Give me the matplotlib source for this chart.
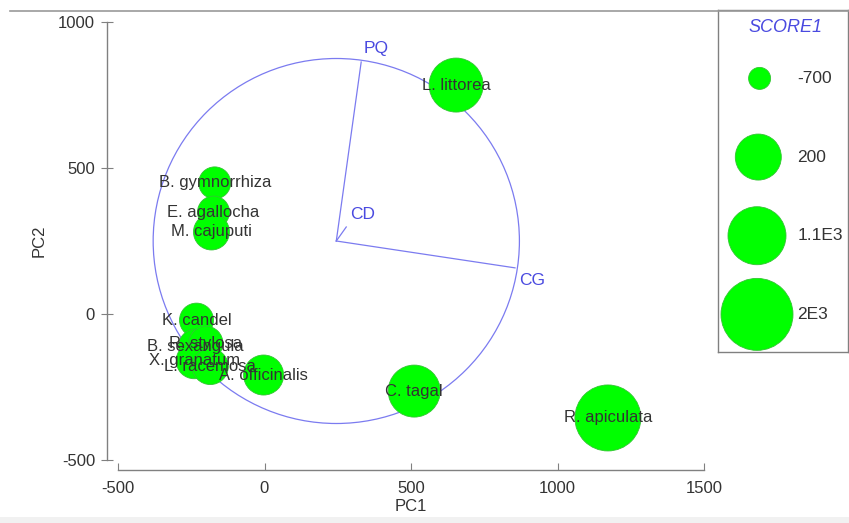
import matplotlib
matplotlib.use("Agg")
import matplotlib.pyplot as plt
from matplotlib.patches import Circle, Rectangle
from matplotlib.lines import Line2D
import numpy as np

plt.rcParams['font.family'] = ['Liberation Sans', 'DejaVu Sans']
plt.rcParams['axes.unicode_minus'] = False

# sample scores
species = ["L. littorea", "B. gymnorrhiza", "E. agallocha", "M. cajuputi",
           "K. candel", "B. sexangula", "R. stylosa", "X. granatum",
           "L. racemosa", "A. officinalis", "C. tagal", "R. apiculata"]
pc1 = [654, -170, -174, -181, -232, -235, -200, -240, -185, -3, 511, 1172]
pc2 = [784, 449, 349, 281, -21, -110, -100, -160, -180, -209, -264, -356]
score1 = [800, -325, -325, -175, -250, -250, -250, -175, -175, -25, 650, 1614]

# variable loadings (biplot vectors)
var_names = ["PQ", "CD", "CG"]
var_x = [330, 279, 855]
var_y = [863, 298, 158]
origin = (245, 250)
circle_r = 625

# bubble legend
legend_vals = [-700, 200, 1100, 2000]
legend_labels = ["-700", "200", "1.1E3", "2E3"]
legend_radius_px = [11, 23, 29, 36]

green = "#00ff00"
green_edge = "#33c433"
blue = "#7b7bf0"
blue_txt = "#4a4ae0"
grey = "#808080"
txt = "#333333"


def bubble_size(v):
    r = np.interp(v, legend_vals, legend_radius_px)
    return (2 * r * 0.72) ** 2


W, H = 849, 523
fig = plt.figure(figsize=(W / 100, H / 100), dpi=100)
ax = fig.add_axes([118 / W, (H - 460) / H, (704 - 118) / W, (460 - 22) / H])

ax.set_xlim(-500, 1500)
ax.set_ylim(-500, 1000)
ax.set_xticks([-500, 0, 500, 1000, 1500])
ax.set_yticks([-500, 0, 500, 1000])
for s in ["top", "right"]:
    ax.spines[s].set_visible(False)
ax.spines["bottom"].set_position(("outward", 7))
ax.spines["left"].set_position(("outward", 8))
for s in ["bottom", "left"]:
    ax.spines[s].set_color(grey)
    ax.spines[s].set_linewidth(1.0)
ax.tick_params(axis="x", direction="in", length=5, color=grey, labelcolor=txt,
               labelsize=12, pad=8)
ax.tick_params(axis="y", direction="inout", length=9, color=grey, labelcolor=txt,
               labelsize=12, pad=4)
ax.set_xlabel("PC1", fontsize=12, color=txt, labelpad=2)
ax.set_ylabel("PC2", fontsize=12, color=txt, labelpad=8)

# correlation circle and vectors
ax.add_patch(Circle(origin, circle_r, fill=False, edgecolor=blue, lw=0.9,
                    zorder=1, clip_on=False))

sizes = [bubble_size(v) for v in score1]
ax.scatter(pc1, pc2, s=sizes, c=green, edgecolors=green_edge, linewidths=0.6,
           zorder=2, clip_on=False)
for name, x, y in zip(species, pc1, pc2):
    ax.text(x, y, name, ha="center", va="center", fontsize=12, color=txt,
            zorder=3)

offsets = {"PQ": (11, 10), "CD": (12, 9), "CG": (12, -9)}
for name, x, y in zip(var_names, var_x, var_y):
    ax.plot([origin[0], x], [origin[1], y], color=blue, lw=0.9, zorder=4)
    ax.annotate(name, (x, y), xytext=offsets[name], textcoords="offset points",
                ha="center", va="center", fontsize=12.5, color=blue_txt, zorder=4)

# legend panel
lax = fig.add_axes([718 / W, (H - 352) / H, (848 - 718) / W, (352 - 10) / H])
lax.set_xlim(0, 1)
lax.set_ylim(0, 1)
lax.set_xticks([])
lax.set_yticks([])
for s in lax.spines.values():
    s.set_color(grey)
    s.set_linewidth(1.0)
lax.text(0.52, 0.95, "SCORE1", ha="center", va="center", fontsize=13,
         style="italic", color=blue_txt)
ly = [0.80, 0.57, 0.34, 0.11]
lx = [0.32, 0.31, 0.30, 0.30]
lax.scatter(lx, ly, s=[bubble_size(v) for v in legend_vals], c=green,
            edgecolors=green_edge, linewidths=0.6, clip_on=False)
for lab, y in zip(legend_labels, ly):
    lax.text(0.61, y, lab, ha="left", va="center", fontsize=12.5, color=txt)

# frame lines from the screenshot
fig.add_artist(Line2D([10 / W, 1], [1 - 11 / H, 1 - 11 / H], color="#9a9a9a",
                      lw=1.2))
fig.add_artist(Rectangle((0, 0), 1, 6 / H, transform=fig.transFigure,
                         color="#f1f1f1", lw=0))

fig.savefig("out.png", dpi=100)
